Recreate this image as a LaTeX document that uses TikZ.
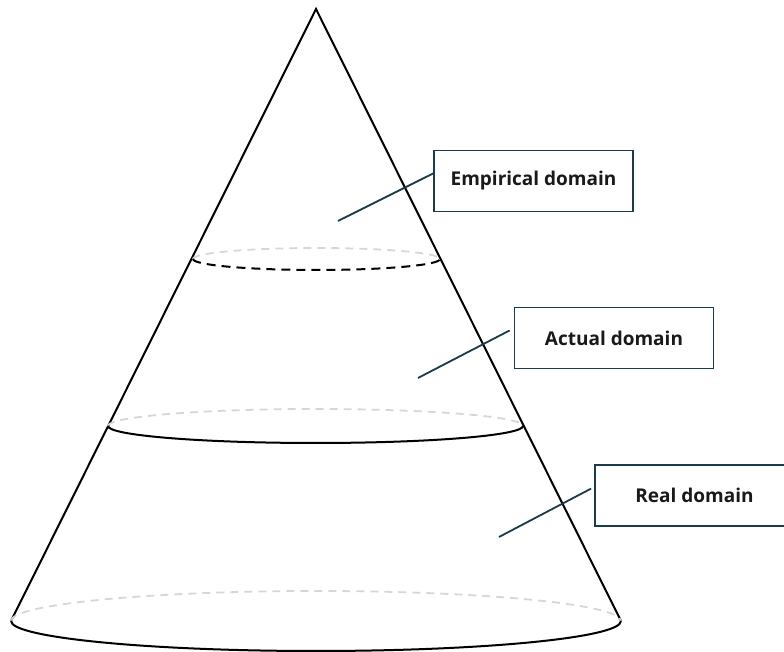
\documentclass[tikz,border=0pt]{standalone}
\usepackage{fontspec}
\setmainfont{Open Sans}
\usetikzlibrary{calc}
\definecolor{edgeink}{HTML}{1B3A4B}
\definecolor{hidden}{HTML}{D6D6D6}
\tikzset{
  conepart/.style={line width=2pt, black},
  backrim/.style={line width=1.8pt, hidden, dash pattern=on 8pt off 6pt},
  label/.style={draw=edgeink, line width=1.8pt, minimum width=199pt, minimum height=61pt,
                inner sep=0pt, font=\fontsize{19}{22}\selectfont\bfseries, text=black!90},
  leader/.style={line width=1.8pt, edgeink}
}
\begin{document}
\begin{tikzpicture}[x=1pt,y=1pt]
  \useasboundingbox (0,0) rectangle (784,652);
  \clip (0,0) rectangle (784,652);

  % cone outline
  \coordinate (apex) at (316,643);
  \coordinate (baseL) at (11,31);
  \coordinate (baseR) at (621,31);
  \draw[conepart, line join=miter] (baseL) -- (apex) -- (baseR);

  % base rim
  \draw[backrim] (baseL) arc[start angle=180, end angle=0, x radius=305, y radius=30];
  \draw[conepart] (baseL) arc[start angle=180, end angle=360, x radius=305, y radius=30];

  % middle rim
  \coordinate (midL) at (108,226);
  \draw[backrim] (midL) arc[start angle=180, end angle=0, x radius=207.5, y radius=17];
  \draw[conepart] (midL) arc[start angle=180, end angle=360, x radius=207.5, y radius=17];

  % upper rim
  \coordinate (topL) at (193,393);
  \draw[backrim] (topL) arc[start angle=180, end angle=0, x radius=123.5, y radius=11];
  \draw[conepart, dash pattern=on 9pt off 6pt] (topL) arc[start angle=180, end angle=360, x radius=123.5, y radius=11];

  % labels
  \node[label] (emp) at (533.5,471) {Empirical domain};
  \node[label] (act) at (614,314) {Actual domain};
  \node[label] (real) at (694.5,156.5) {Real domain};

  % leaders
  \coordinate (empIn) at (338,431);
  \coordinate (actIn) at (418,274);
  \coordinate (realIn) at (499,115);
  \draw[leader] (empIn) -- ($(emp.north west)!0.38!(emp.south west)$);
  \draw[leader] (actIn) -- ($(act.north west)!0.38!(act.south west)+(-4,0)$);
  \draw[leader] (realIn) -- ($(real.north west)!0.39!(real.south west)+(-3,0)$);
\end{tikzpicture}
\end{document}
